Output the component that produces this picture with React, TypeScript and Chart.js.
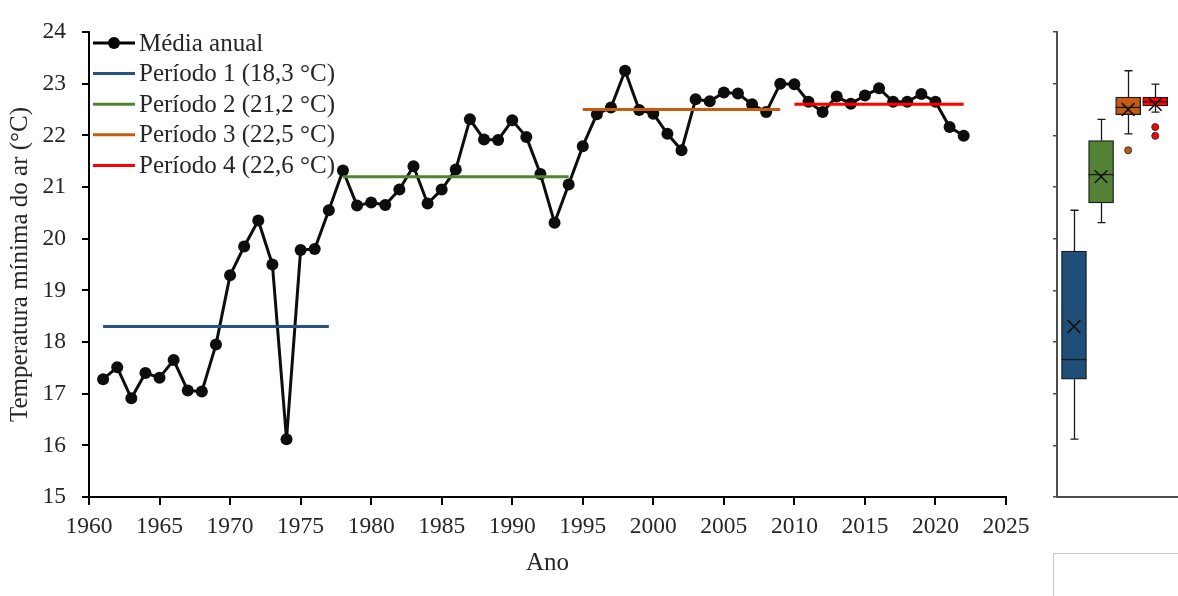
import { useEffect, useRef } from "react";
import { Chart, registerables } from "chart.js";

Chart.register(...registerables);

// Annual mean of the minimum air temperature, 1961–2022
const years = [
  1961, 1962, 1963, 1964, 1965, 1966, 1967, 1968, 1969, 1970,
  1971, 1972, 1973, 1974, 1975, 1976, 1977, 1978, 1979, 1980,
  1981, 1982, 1983, 1984, 1985, 1986, 1987, 1988, 1989, 1990,
  1991, 1992, 1993, 1994, 1995, 1996, 1997, 1998, 1999, 2000,
  2001, 2002, 2003, 2004, 2005, 2006, 2007, 2008, 2009, 2010,
  2011, 2012, 2013, 2014, 2015, 2016, 2017, 2018, 2019, 2020,
  2021, 2022,
];
const annualMean = [
  17.28, 17.51, 16.91, 17.4, 17.31, 17.65, 17.06, 17.04, 17.95, 19.29,
  19.85, 20.35, 19.5, 16.12, 19.78, 19.8, 20.55, 21.32, 20.64, 20.7,
  20.65, 20.95, 21.4, 20.68, 20.95, 21.34, 22.31, 21.92, 21.91, 22.29,
  21.97, 21.25, 20.31, 21.05, 21.79, 22.41, 22.54, 23.25, 22.49, 22.42,
  22.03, 21.71, 22.7, 22.66, 22.83, 22.81, 22.6, 22.45, 23.0, 22.99,
  22.65, 22.45, 22.75, 22.61, 22.77, 22.91, 22.65, 22.65, 22.8, 22.65,
  22.16, 21.99,
];

// Periods and their means
const periodLabels = [
  "Período 1 (18,3 °C)",
  "Período 2 (21,2 °C)",
  "Período 3 (22,5 °C)",
  "Período 4 (22,6 °C)",
];
const periodStart = [1961, 1978, 1995, 2010];
const periodEnd = [1977, 1994, 2009, 2022];
const periodMeans = [18.3, 21.2, 22.5, 22.6];
const periodColors = ["#245283", "#548235", "#c55a11", "#ff0000"];
const boxFills = ["#1f4e79", "#548235", "#c55a11", "#ff0000"];

// Box-plot statistics per period
const boxPos = [1, 2, 3, 4];
const boxLow = [16.12, 20.31, 22.03, 22.45];
const boxQ1 = [17.28, 20.69, 22.4, 22.57];
const boxMedian = [17.66, 21.24, 22.54, 22.65];
const boxQ3 = [19.76, 21.9, 22.74, 22.74];
const boxHigh = [20.55, 22.31, 23.25, 22.99];
const outlierGroup = [3, 4, 4];
const outlierValues = [21.71, 22.16, 21.99];

// Axis ranges
const yMin = 15;
const yMax = 24;
const xMin = 1960;
const xMax = 2025;

const SERIF = '"Liberation Serif", "Times New Roman", serif';
const TEXT = "#262626";

const legendPlugin = {
  id: "insideLegend",
  afterDraw(chart: any) {
    const { ctx, chartArea } = chart;
    const x0 = chartArea.left + 4;
    const lineLen = 42;
    const textX = x0 + lineLen + 4;
    const rowTop = chartArea.top + 11;
    const rowGap = 30.6;
    const entries = [
      { label: "Média anual", color: "#000", dot: true },
      ...periodLabels.map((l, i) => ({ label: l, color: periodColors[i], dot: false })),
    ];
    ctx.save();
    ctx.font = `25px ${SERIF}`;
    ctx.textBaseline = "middle";
    ctx.textAlign = "left";
    entries.forEach((e, i) => {
      const cy = rowTop + i * rowGap;
      ctx.strokeStyle = e.color;
      ctx.lineWidth = 3;
      ctx.beginPath();
      ctx.moveTo(x0, cy);
      ctx.lineTo(x0 + lineLen, cy);
      ctx.stroke();
      if (e.dot) {
        ctx.fillStyle = "#000";
        ctx.beginPath();
        ctx.arc(x0 + lineLen / 2, cy, 6, 0, Math.PI * 2);
        ctx.fill();
      }
      ctx.fillStyle = TEXT;
      ctx.fillText(e.label, textX, cy + 1);
    });
    ctx.restore();
  },
};

const whiskerPlugin = {
  id: "boxWhiskers",
  beforeDatasetsDraw(chart: any) {
    const { ctx, scales } = chart;
    const x = scales.x;
    const y = scales.y;
    ctx.save();
    ctx.strokeStyle = "#1a1a1a";
    ctx.lineWidth = 1.3;
    boxPos.forEach((p, i) => {
      const cx = Math.round(x.getPixelForValue(p)) + 0.5;
      const yH = y.getPixelForValue(boxHigh[i]);
      const yL = y.getPixelForValue(boxLow[i]);
      const y3 = y.getPixelForValue(boxQ3[i]);
      const y1 = y.getPixelForValue(boxQ1[i]);
      ctx.beginPath();
      ctx.moveTo(cx, y3);
      ctx.lineTo(cx, yH);
      ctx.moveTo(cx, y1);
      ctx.lineTo(cx, yL);
      ctx.moveTo(cx - 4, yH);
      ctx.lineTo(cx + 4, yH);
      ctx.moveTo(cx - 4, yL);
      ctx.lineTo(cx + 4, yL);
      ctx.stroke();
    });
    ctx.restore();
  },
  afterDatasetsDraw(chart: any) {
    const { ctx, scales } = chart;
    const x = scales.x;
    const y = scales.y;
    const bars = chart.getDatasetMeta(2).data;
    ctx.save();
    ctx.strokeStyle = "#1a1a1a";
    ctx.lineWidth = 1.3;
    boxPos.forEach((p, i) => {
      const cx = x.getPixelForValue(p);
      const half = bars[i] ? bars[i].width / 2 : 12.5;
      const ym = y.getPixelForValue(boxMedian[i]);
      ctx.beginPath();
      ctx.moveTo(cx - half, ym);
      ctx.lineTo(cx + half, ym);
      ctx.stroke();
    });
    ctx.restore();
  },
};

const frameBoxPlugin = {
  id: "frameBox",
  afterDraw(chart: any) {
    const { ctx } = chart;
    ctx.save();
    ctx.strokeStyle = "#c8c8c8";
    ctx.lineWidth = 1;
    ctx.strokeRect(13.5, 553.5, 200, 100);
    ctx.restore();
  },
};

export default function App() {
  const mainRef = useRef<HTMLCanvasElement | null>(null);
  const boxRef = useRef<HTMLCanvasElement | null>(null);

  useEffect(() => {
    if (!mainRef.current || !boxRef.current) return;

    const periodDatasets = periodLabels.map((label, i) => ({
      type: "line",
      label,
      data: [
        { x: periodStart[i], y: periodMeans[i] },
        { x: periodEnd[i], y: periodMeans[i] },
      ],
      borderColor: periodColors[i],
      borderWidth: 3,
      pointRadius: 0,
      order: 0,
    }));

    const main = new Chart(mainRef.current, {
      type: "line",
      data: {
        datasets: [
          {
            label: "Média anual",
            data: years.map((yr, i) => ({ x: yr, y: annualMean[i] })),
            borderColor: "#0d0d0d",
            borderWidth: 3,
            borderJoinStyle: "round",
            pointRadius: 6,
            pointBackgroundColor: "#0d0d0d",
            pointBorderWidth: 0,
            order: 1,
          },
          ...periodDatasets,
        ] as any,
      },
      options: {
        animation: false,
        responsive: false,
        layout: { autoPadding: false, padding: { top: 32, right: 34, left: 0, bottom: 0 } },
        plugins: { legend: { display: false }, tooltip: { enabled: false } },
        scales: {
          x: {
            type: "linear",
            min: xMin,
            max: xMax,
            ticks: {
              stepSize: 5,
              font: { family: SERIF, size: 23.5 },
              color: TEXT,
              padding: 8,
              maxRotation: 0,
              callback: (v: any) => String(v),
            },
            grid: { drawOnChartArea: false, drawTicks: true, tickLength: 8, color: "#000", lineWidth: 2 },
            border: { display: true, color: "#000", width: 2 },
            title: {
              display: true,
              text: "Ano",
              font: { family: SERIF, size: 25 },
              color: TEXT,
              padding: { top: 0, bottom: 18 },
            },
            afterFit: (s: any) => {
              s.height = 99;
            },
          },
          y: {
            min: yMin,
            max: yMax,
            ticks: {
              stepSize: 1,
              font: { family: SERIF, size: 23.5 },
              color: TEXT,
              padding: 16,
            },
            grid: { drawOnChartArea: false, drawTicks: true, tickLength: 7, color: "#000", lineWidth: 2 },
            border: { display: true, color: "#000", width: 2 },
            title: {
              display: true,
              text: "Temperatura mínima do ar (°C)",
              font: { family: SERIF, size: 25 },
              color: TEXT,
              padding: { top: 5, bottom: 0 },
            },
            afterFit: (s: any) => {
              s.width = 89;
            },
          },
        },
      } as any,
      plugins: [legendPlugin],
    });

    const box = new Chart(boxRef.current, {
      type: "bar",
      data: {
        datasets: [
          {
            type: "scatter",
            label: "Média",
            data: boxPos.map((p, i) => ({ x: p, y: periodMeans[i] })),
            pointStyle: "crossRot",
            pointRadius: 9,
            borderColor: "#111",
            borderWidth: 1.5,
            backgroundColor: "rgba(0,0,0,0)",
            order: 0,
          },
          {
            type: "scatter",
            label: "Outliers",
            data: outlierGroup.map((g, i) => ({ x: g, y: outlierValues[i] })),
            pointStyle: "circle",
            pointRadius: 3.5,
            pointBackgroundColor: outlierGroup.map((g) => boxFills[g - 1]),
            pointBorderColor: "#333",
            pointBorderWidth: 1,
            order: 1,
          },
          {
            type: "bar",
            label: "Quartis",
            data: boxPos.map((p, i) => ({ x: p, y: [boxQ1[i], boxQ3[i]] })),
            backgroundColor: boxFills,
            borderColor: "#1a1a1a",
            borderWidth: 1.3,
            borderSkipped: false,
            barThickness: 25,
            order: 2,
          },
        ] as any,
      },
      options: {
        animation: false,
        responsive: false,
        layout: { autoPadding: false, padding: { top: 32, right: 0, left: 0, bottom: 0 } },
        plugins: { legend: { display: false }, tooltip: { enabled: false } },
        scales: {
          x: {
            type: "linear",
            min: 0.373,
            max: 4.84,
            offset: false,
            ticks: { display: false },
            grid: { drawOnChartArea: false, drawTicks: false },
            border: { display: true, color: "#4d4d4d", width: 2 },
            afterFit: (s: any) => {
              s.height = 99;
            },
          },
          y: {
            min: yMin,
            max: yMax,
            ticks: { display: false, stepSize: 1 },
            grid: { drawOnChartArea: false, drawTicks: true, tickLength: 4, color: "#4d4d4d", lineWidth: 1.5 },
            border: { display: true, color: "#4d4d4d", width: 2 },
            afterFit: (s: any) => {
              s.width = 17;
            },
          },
        },
      } as any,
      plugins: [whiskerPlugin, frameBoxPlugin],
    });

    return () => {
      main.destroy();
      box.destroy();
    };
  }, []);

  return (
    <div
      style={{
        position: "fixed",
        left: 0,
        top: 0,
        width: 1178,
        height: 596,
        background: "#fff",
        overflow: "hidden",
      }}
    >
      <canvas
        ref={mainRef}
        width={1040}
        height={596}
        style={{ position: "absolute", left: 0, top: 0, width: 1040, height: 596 }}
      />
      <canvas
        ref={boxRef}
        width={138}
        height={596}
        style={{ position: "absolute", left: 1040, top: 0, width: 138, height: 596 }}
      />
    </div>
  );
}
